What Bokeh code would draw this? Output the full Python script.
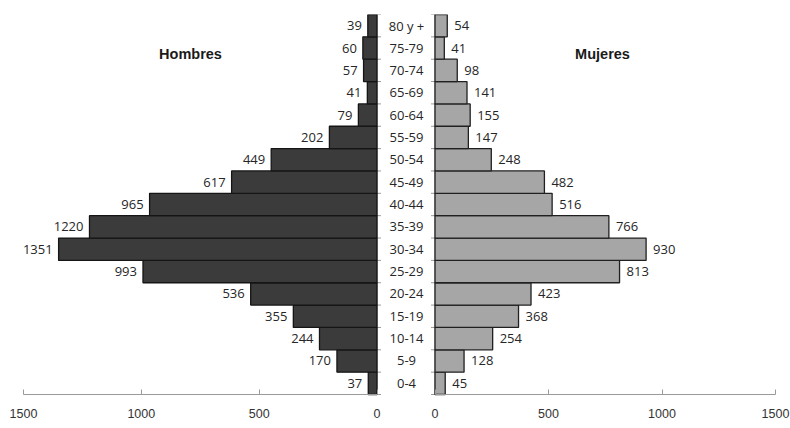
from bokeh.plotting import figure
from bokeh.models import (ColumnDataSource, Range1d, LinearAxis,
                          FixedTicker, Label)
from bokeh.core.properties import value
from bokeh.embed import file_html
from bokeh.resources import INLINE

# ---------------- data ----------------
ages = ["0-4", "5-9", "10-14", "15-19", "20-24", "25-29", "30-34", "35-39",
        "40-44", "45-49", "50-54", "55-59", "60-64", "65-69", "70-74",
        "75-79", "80 y +"]
hombres = [37, 170, 244, 355, 536, 993, 1351, 1220, 965, 617, 449, 202,
           79, 41, 57, 60, 39]
mujeres = [45, 128, 254, 368, 423, 813, 930, 766, 516, 482, 248, 147,
           155, 141, 98, 41, 54]
x_ticks = [0, 500, 1000, 1500]
title_h = "Hombres"
title_m = "Mujeres"

# ---------------- layout (pixels) ----------------
W, H = 790, 428
FL, FR = 0, 790           # frame left / right
FT, AXY = 14, 394         # top of bars / axis line
FW = FR - FL
N = len(ages)
BAND = (AXY - FT) / N

L_ZERO, L_MAX = 376.5, 23.0     # left panel: pixel of 0 and of 1500
R_ZERO, R_MAX = 434.5, 775.0    # right panel: pixel of 0 and of 1500
s_l = (L_ZERO - L_MAX) / 1500.0
s_r = (R_MAX - R_ZERO) / 1500.0
left_range = Range1d(start=(L_ZERO - FL) / s_l, end=-(FR - L_ZERO) / s_l)
right_range = Range1d(start=-(R_ZERO - FL) / s_r, end=(FR - R_ZERO) / s_r)

ypos = [i + 0.5 for i in range(N)]   # band centres of each age group
src = ColumnDataSource(dict(age=ages, y=ypos, h=hombres, m=mujeres,
                            hl=[str(v) for v in hombres],
                            ml=[str(v) for v in mujeres]))

p = figure(width=W, height=H, output_backend="svg", toolbar_location=None,
           x_range=Range1d(0, FW), y_range=Range1d(-(H - AXY) / BAND, N),
           x_axis_location=None, y_axis_location=None,
           min_border_left=FL, min_border_right=W - FR,
           min_border_top=FT, min_border_bottom=0)
p.extra_x_ranges = {"left": left_range, "right": right_range}
p.outline_line_color = None
p.xgrid.visible = False
p.ygrid.visible = False
p.background_fill_color = "white"
p.border_fill_color = "white"

VAL_FONT = value("Open Sans")
VAL_SIZE = "13px"
TXT = "#262626"
AXC = "#9a9a9a"

# vertical zero lines with category-boundary ticks
bnd = list(range(N + 1))
p.segment(x0=0, y0=0, x1=0, y1=N, x_range_name="left", line_color=AXC, line_width=1)
p.segment(x0=0, y0=0, x1=0, y1=N, x_range_name="right", line_color=AXC, line_width=1)
p.segment(x0=0, y0=bnd, x1=-4 / s_l, y1=bnd, x_range_name="left", line_color=AXC)
p.segment(x0=0, y0=bnd, x1=-4 / s_r, y1=bnd, x_range_name="right", line_color=AXC)

# bars
p.hbar(y="y", left=0, right="h", height=1.0, source=src, x_range_name="left",
       fill_color="#3b3b3b", line_color="#151515", line_width=1.3)
p.hbar(y="y", left=0, right="m", height=1.0, source=src, x_range_name="right",
       fill_color="#a6a6a6", line_color="#202020", line_width=1.3)

# value labels
p.text(x="h", y="y", text="hl", source=src, x_range_name="left",
       text_align="right", text_baseline="middle", x_offset=-6,
       text_font=VAL_FONT, text_font_size=VAL_SIZE, text_color=TXT)
p.text(x="m", y="y", text="ml", source=src, x_range_name="right",
       text_align="left", text_baseline="middle", x_offset=7,
       text_font=VAL_FONT, text_font_size=VAL_SIZE, text_color=TXT)

# age labels in the middle
mid_px = (L_ZERO + R_ZERO) / 2 - FL + 0.5
p.text(x=mid_px, y="y", text="age", source=src,
       text_align="center", text_baseline="middle",
       text_font=VAL_FONT, text_font_size=VAL_SIZE, text_color=TXT)

# bottom axes
for rng in ("left", "right"):
    ax = LinearAxis(x_range_name=rng, fixed_location=0,
                    ticker=FixedTicker(ticks=x_ticks), bounds=(0, 1500))
    ax.axis_line_color = AXC
    ax.major_tick_line_color = AXC
    ax.major_tick_in = 5
    ax.major_tick_out = 0
    ax.minor_tick_line_color = None
    ax.major_label_standoff = 14
    ax.major_label_text_font = "Liberation Sans"
    ax.major_label_text_font_size = "12.5px"
    ax.major_label_text_color = "#333333"
    p.add_layout(ax, "below")

# panel titles
ty = N - (53 - FT) / BAND
p.add_layout(Label(x=190 - FL, y=ty, text=title_h, text_align="center",
                   text_baseline="middle", text_font="Liberation Sans",
                   text_font_style="bold", text_font_size="14.5px",
                   text_color="#1a1a1a"))
p.add_layout(Label(x=602 - FL, y=ty, text=title_m, text_align="center",
                   text_baseline="middle", text_font="Liberation Sans",
                   text_font_style="bold", text_font_size="14.5px",
                   text_color="#1a1a1a"))

open("out.html", "w").write(file_html(p, INLINE))
